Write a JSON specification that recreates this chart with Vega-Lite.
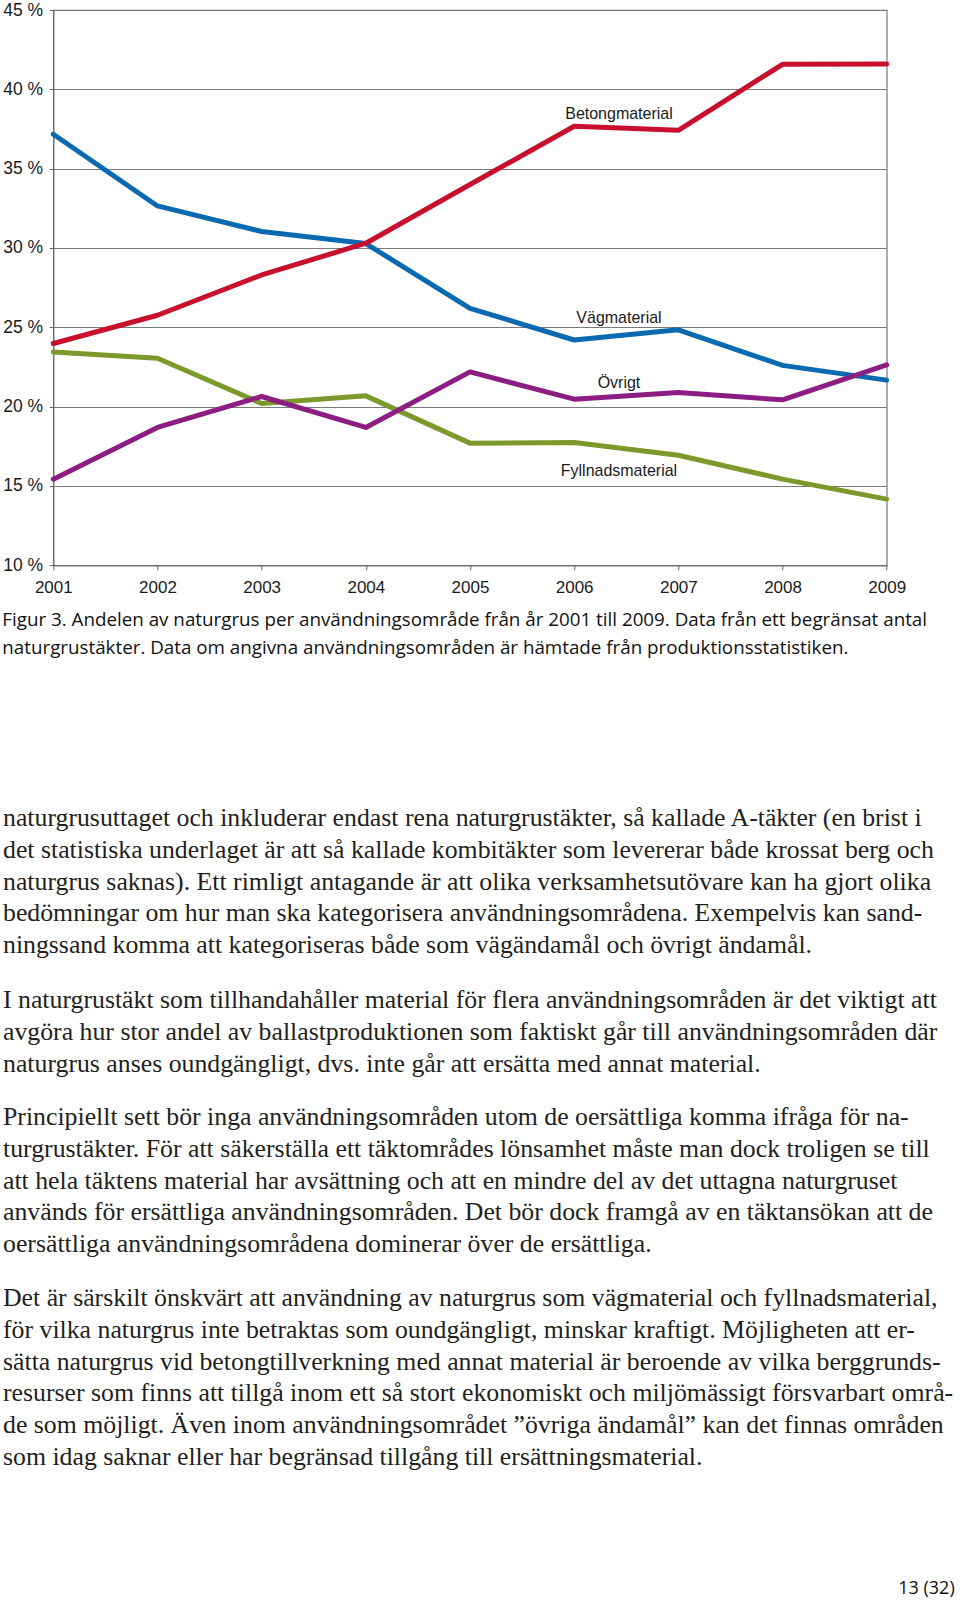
{
  "$schema": "https://vega.github.io/schema/vega-lite/v6.json",
  "background": "white",
  "padding": {"left": 1.3, "top": 0, "right": 0, "bottom": 0},
  "config": {"view": {"stroke": null}},
  "datasets": {
    "series": [
      {"category": "Vägmaterial", "year": 2001, "share": 37.17},
      {"category": "Vägmaterial", "year": 2002, "share": 32.65},
      {"category": "Vägmaterial", "year": 2003, "share": 31.04},
      {"category": "Vägmaterial", "year": 2004, "share": 30.28},
      {"category": "Vägmaterial", "year": 2005, "share": 26.2},
      {"category": "Vägmaterial", "year": 2006, "share": 24.2},
      {"category": "Vägmaterial", "year": 2007, "share": 24.84},
      {"category": "Vägmaterial", "year": 2008, "share": 22.6},
      {"category": "Vägmaterial", "year": 2009, "share": 21.67},
      {"category": "Fyllnadsmaterial", "year": 2001, "share": 23.45},
      {"category": "Fyllnadsmaterial", "year": 2002, "share": 23.05},
      {"category": "Fyllnadsmaterial", "year": 2003, "share": 20.2},
      {"category": "Fyllnadsmaterial", "year": 2004, "share": 20.68},
      {"category": "Fyllnadsmaterial", "year": 2005, "share": 17.7},
      {"category": "Fyllnadsmaterial", "year": 2006, "share": 17.74},
      {"category": "Fyllnadsmaterial", "year": 2007, "share": 16.94},
      {"category": "Fyllnadsmaterial", "year": 2008, "share": 15.43},
      {"category": "Fyllnadsmaterial", "year": 2009, "share": 14.17},
      {"category": "Övrigt", "year": 2001, "share": 15.43},
      {"category": "Övrigt", "year": 2002, "share": 18.69},
      {"category": "Övrigt", "year": 2003, "share": 20.64},
      {"category": "Övrigt", "year": 2004, "share": 18.69},
      {"category": "Övrigt", "year": 2005, "share": 22.19},
      {"category": "Övrigt", "year": 2006, "share": 20.47},
      {"category": "Övrigt", "year": 2007, "share": 20.89},
      {"category": "Övrigt", "year": 2008, "share": 20.43},
      {"category": "Övrigt", "year": 2009, "share": 22.63},
      {"category": "Betongmaterial", "year": 2001, "share": 23.98},
      {"category": "Betongmaterial", "year": 2002, "share": 25.76},
      {"category": "Betongmaterial", "year": 2003, "share": 28.3},
      {"category": "Betongmaterial", "year": 2004, "share": 30.3},
      {"category": "Betongmaterial", "year": 2005, "share": 34.0},
      {"category": "Betongmaterial", "year": 2006, "share": 37.67},
      {"category": "Betongmaterial", "year": 2007, "share": 37.42},
      {"category": "Betongmaterial", "year": 2008, "share": 41.58},
      {"category": "Betongmaterial", "year": 2009, "share": 41.6}
    ],
    "labels": [
      {"label": "Betongmaterial", "year": 2006.43, "share": 38.55},
      {"label": "Vägmaterial", "year": 2006.43, "share": 25.68},
      {"label": "Övrigt", "year": 2006.43, "share": 21.58},
      {"label": "Fyllnadsmaterial", "year": 2006.43, "share": 16.06}
    ]
  },
  "spacing": 10.3,
  "vconcat": [
    {
      "width": 833.4,
      "height": 555.3,
      "view": {"stroke": "#777777", "strokeWidth": 1.2},
      "layer": [
        {
          "data": {"name": "series"},
          "mark": {"type": "line", "strokeWidth": 5, "strokeCap": "round", "strokeJoin": "round"},
          "encoding": {
            "x": {
              "field": "year", "type": "quantitative",
              "scale": {"domain": [2001, 2009], "nice": false, "zero": false},
              "axis": {
                "title": null, "values": [2001, 2002, 2003, 2004, 2005, 2006, 2007, 2008, 2009],
                "format": "d", "grid": false, "labelFont": "Liberation Sans", "labelFontSize": 17,
                "labelColor": "#1a1a1a", "labelFlush": false, "labelOverlap": false,
                "tickSize": 4.5, "tickColor": "#666666", "domainColor": "#666666",
                "labelPadding": 9.5
              }
            },
            "y": {
              "field": "share", "type": "quantitative",
              "scale": {"domain": [10, 45], "nice": false, "zero": false},
              "axis": {
                "title": null, "values": [10, 15, 20, 25, 30, 35, 40, 45],
                "labelExpr": "datum.value + ' %'", "grid": true, "gridColor": "#7a7a7a",
                "gridWidth": 1.2, "labelFont": "Liberation Sans", "labelFontSize": 17.5,
                "labelColor": "#1a1a1a", "labelFlush": false, "labelOverlap": false,
                "tickSize": 4, "tickColor": "#666666", "domainColor": "#666666",
                "labelPadding": 6.7
              }
            },
            "color": {
              "field": "category", "type": "nominal",
              "scale": {
                "domain": ["Betongmaterial", "Vägmaterial", "Övrigt", "Fyllnadsmaterial"],
                "range": ["#c8102e", "#0b69b1", "#8c1d82", "#7b9a2b"]
              },
              "legend": null
            }
          }
        },
        {
          "data": {"name": "labels"},
          "mark": {"type": "text", "font": "Liberation Sans", "fontSize": 16, "color": "#1a1a1a", "align": "center", "baseline": "middle", "dy": 1.5},
          "encoding": {
            "x": {"field": "year", "type": "quantitative"},
            "y": {"field": "share", "type": "quantitative"},
            "text": {"field": "label"}
          }
        }
      ]
    },
    {
      "spacing": 141.2,
      "vconcat": [
        {
          "width": 904,
          "height": {"step": 28},
          "data": {"values": [
            {"line": 1, "text": "Figur 3. Andelen av naturgrus per användningsområde från år 2001 till 2009. Data från ett begränsat antal"},
            {"line": 2, "text": "naturgrustäkter. Data om angivna användningsområden är hämtade från produktionsstatistiken."}
          ]},
          "mark": {"type": "text", "align": "left", "baseline": "middle", "font": "Open Sans", "fontSize": 18.8, "color": "#111111", "dx": -51},
          "encoding": {
            "x": {"datum": 0, "type": "quantitative", "scale": {"domain": [0, 1], "nice": false}, "axis": null},
            "y": {"field": "line", "type": "ordinal", "axis": null},
            "text": {"field": "text"}
          }
        },
        {
          "spacing": 101.4,
          "vconcat": [
            {
              "spacing": 22,
              "vconcat": [
                {
                  "width": 904,
                  "height": {"step": 31.65},
                  "data": {"values": [
                    {"line": 1, "text": "naturgrusuttaget och inkluderar endast rena naturgrustäkter, så kallade A-täkter (en brist i"},
                    {"line": 2, "text": "det statistiska underlaget är att så kallade kombitäkter som levererar både krossat berg och"},
                    {"line": 3, "text": "naturgrus saknas). Ett rimligt antagande är att olika verksamhetsutövare kan ha gjort olika"},
                    {"line": 4, "text": "bedömningar om hur man ska kategorisera användningsområdena. Exempelvis kan sand-"},
                    {"line": 5, "text": "ningssand komma att kategoriseras både som vägändamål och övrigt ändamål."}
                  ]},
                  "mark": {"type": "text", "align": "left", "baseline": "middle", "font": "Liberation Serif", "fontSize": 25.8, "color": "#231f20", "dx": -50.3, "dy": -1},
                  "encoding": {
                    "x": {"datum": 0, "type": "quantitative", "scale": {"domain": [0, 1], "nice": false}, "axis": null},
                    "y": {"field": "line", "type": "ordinal", "axis": null},
                    "text": {"field": "text"}
                  }
                },
                {
                  "width": 904,
                  "height": {"step": 31.65},
                  "data": {"values": [
                    {"line": 1, "text": "I naturgrustäkt som tillhandahåller material för flera användningsområden är det viktigt att"},
                    {"line": 2, "text": "avgöra hur stor andel av ballastproduktionen som faktiskt går till användningsområden där"},
                    {"line": 3, "text": "naturgrus anses oundgängligt, dvs. inte går att ersätta med annat material."}
                  ]},
                  "mark": {"type": "text", "align": "left", "baseline": "middle", "font": "Liberation Serif", "fontSize": 25.8, "color": "#231f20", "dx": -50.3},
                  "encoding": {
                    "x": {"datum": 0, "type": "quantitative", "scale": {"domain": [0, 1], "nice": false}, "axis": null},
                    "y": {"field": "line", "type": "ordinal", "axis": null},
                    "text": {"field": "text"}
                  }
                },
                {
                  "width": 904,
                  "height": {"step": 31.65},
                  "data": {"values": [
                    {"line": 1, "text": "Principiellt sett bör inga användningsområden utom de oersättliga komma ifråga för na-"},
                    {"line": 2, "text": "turgrustäkter. För att säkerställa ett täktområdes lönsamhet måste man dock troligen se till"},
                    {"line": 3, "text": "att hela täktens material har avsättning och att en mindre del av det uttagna naturgruset"},
                    {"line": 4, "text": "används för ersättliga användningsområden. Det bör dock framgå av en täktansökan att de"},
                    {"line": 5, "text": "oersättliga användningsområdena dominerar över de ersättliga."}
                  ]},
                  "mark": {"type": "text", "align": "left", "baseline": "middle", "font": "Liberation Serif", "fontSize": 25.8, "color": "#231f20", "dx": -50.3},
                  "encoding": {
                    "x": {"datum": 0, "type": "quantitative", "scale": {"domain": [0, 1], "nice": false}, "axis": null},
                    "y": {"field": "line", "type": "ordinal", "axis": null},
                    "text": {"field": "text"}
                  }
                },
                {
                  "width": 904,
                  "height": {"step": 31.65},
                  "data": {"values": [
                    {"line": 1, "text": "Det är särskilt önskvärt att användning av naturgrus som vägmaterial och fyllnadsmaterial,"},
                    {"line": 2, "text": "för vilka naturgrus inte betraktas som oundgängligt, minskar kraftigt. Möjligheten att er-"},
                    {"line": 3, "text": "sätta naturgrus vid betongtillverkning med annat material är beroende av vilka berggrunds-"},
                    {"line": 4, "text": "resurser som finns att tillgå inom ett så stort ekonomiskt och miljömässigt försvarbart områ-"},
                    {"line": 5, "text": "de som möjligt. Även inom användningsområdet ”övriga ändamål” kan det finnas områden"},
                    {"line": 6, "text": "som idag saknar eller har begränsad tillgång till ersättningsmaterial."}
                  ]},
                  "mark": {"type": "text", "align": "left", "baseline": "middle", "font": "Liberation Serif", "fontSize": 25.8, "color": "#231f20", "dx": -50.3},
                  "encoding": {
                    "x": {"datum": 0, "type": "quantitative", "scale": {"domain": [0, 1], "nice": false}, "axis": null},
                    "y": {"field": "line", "type": "ordinal", "axis": null},
                    "text": {"field": "text"}
                  }
                }
              ]
            },
            {
              "width": 904,
              "height": 30,
              "data": {"values": [{"page": "13 (32)"}]},
              "mark": {"type": "text", "align": "right", "baseline": "middle", "font": "Open Sans", "fontSize": 18, "color": "#111111", "dx": -2.6},
              "encoding": {
                "x": {"datum": 1, "type": "quantitative", "scale": {"domain": [0, 1], "nice": false}, "axis": null},
                "text": {"field": "page"}
              }
            }
          ]
        }
      ]
    }
  ]
}
